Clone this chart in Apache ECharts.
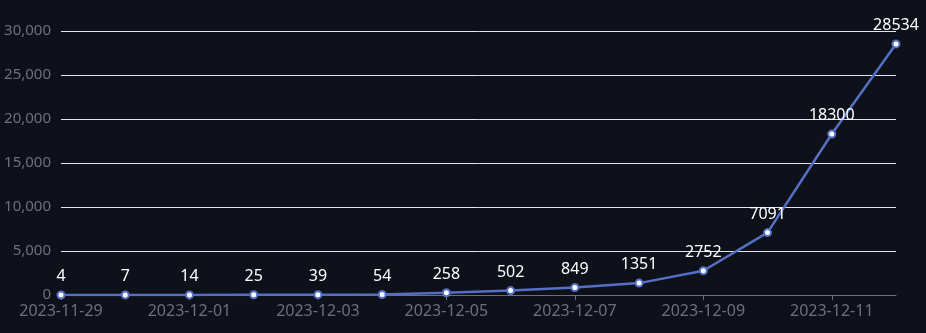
<!DOCTYPE html>
<html><head><meta charset="utf-8">
<script src="https://cdn.jsdelivr.net/npm/echarts@6/dist/echarts.min.js"></script>
<style>html,body{margin:0;padding:0;background:#0f111a;}#c{width:926px;height:333px;}</style>
</head><body><div id="c"></div>
<script>
const categories = ['2023-11-29','2023-11-30','2023-12-01','2023-12-02','2023-12-03','2023-12-04','2023-12-05','2023-12-06','2023-12-07','2023-12-08','2023-12-09','2023-12-10','2023-12-11','2023-12-12'];
const values = [4,7,14,25,39,54,258,502,849,1351,2752,7091,18300,28534];
const chart = echarts.init(document.getElementById('c'));
chart.setOption({
  backgroundColor: '#0f111a',
  animation: false,
  textStyle: {fontFamily: 'Noto Sans'},
  grid: {left: 61, right: 30, top: 31, bottom: 38},
  xAxis: {
    type: 'category', data: categories, boundaryGap: false,
    axisLine: {lineStyle: {color: '#6e7079', width: 1}},
    axisTick: {interval: 1, length: 5, lineStyle: {color: '#6e7079'}},
    axisLabel: {interval: 1, color: '#6e7079', fontSize: 16, margin: 8, fontFamily: 'Noto Sans'}
  },
  yAxis: {
    type: 'value', min: 0, max: 30000, interval: 5000,
    axisLabel: {color: '#6e7079', fontSize: 15, margin: 10, fontFamily: 'Noto Sans'},
    splitLine: {lineStyle: {color: '#e0e6f1'}}
  },
  series: [{
    type: 'line', data: values,
    symbol: 'emptyCircle', symbolSize: 7,
    lineStyle: {color: '#5470c6', width: 2.5},
    itemStyle: {color: '#5470c6', borderWidth: 3},
    label: {show: true, position: 'top', color: '#ffffff', fontSize: 16, distance: 6, fontFamily: 'Noto Sans'}
  }]
});
</script></body></html>
